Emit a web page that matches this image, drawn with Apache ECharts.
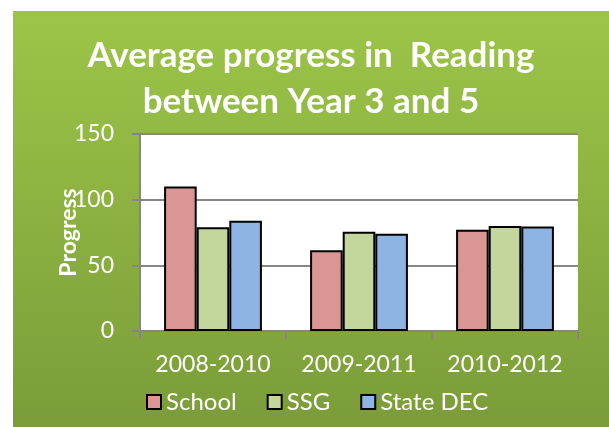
<!DOCTYPE html>
<html>
<head>
<meta charset="utf-8">
<script src="https://cdn.jsdelivr.net/npm/echarts@6/dist/echarts.min.js"></script>
<style>
  html, body { margin: 0; padding: 0; background: #fff; }
  #chart { position: absolute; left: 13px; top: 11px; width: 596px; height: 416px; }
</style>
</head>
<body>
<div id="chart"></div>
<script>
const periods = ['2008-2010', '2009-2011', '2010-2012']
const school   = [110, 61.5, 77]
const ssg      = [79, 75.5, 80]
const stateDec = [84, 74, 79.5]

const FONT = 'Lato'
const chart = echarts.init(document.getElementById('chart'))

const barStyle = color => ({ color, borderColor: '#000', borderWidth: 2 })

chart.setOption({
  backgroundColor: new echarts.graphic.LinearGradient(0, 0, 0, 1, [
    { offset: 0, color: '#9cc548' },
    { offset: 1, color: '#7b9c39' },
  ]),
  animation: false,
  textStyle: { fontFamily: FONT },
  title: {
    text: 'Average progress in  Reading\nbetween Year 3 and 5',
    left: 'center', top: 17,
    textStyle: { color: '#fff', fontSize: 35, fontWeight: 'bold', lineHeight: 46, fontFamily: FONT },
  },
  legend: {
    bottom: 8, left: 128,
    itemWidth: 14, itemHeight: 14, itemGap: 30,
    icon: 'rect',
    textStyle: { color: '#fff', fontSize: 24, fontFamily: FONT },
  },
  grid: { left: 127, top: 123, right: 31, bottom: 96, show: true, backgroundColor: '#fff', borderWidth: 0 },
  xAxis: {
    type: 'category', data: periods,
    axisLine: { lineStyle: { color: '#868686', width: 2 } },
    axisTick: { show: true, length: 8, lineStyle: { color: '#868686', width: 2 } },
    axisLabel: { color: '#fff', fontSize: 23, margin: 22, interval: 0, hideOverlap: false, fontFamily: FONT },
  },
  yAxis: {
    type: 'value', min: 0, max: 150, interval: 50,
    name: 'Progress', nameLocation: 'middle', nameGap: 60, nameRotate: 90, nameMoveOverlap: false,
    nameTextStyle: { color: '#fff', fontSize: 23, fontWeight: 'bold', fontFamily: FONT },
    axisLine: { show: true, lineStyle: { color: '#868686', width: 2 } },
    axisTick: { show: true, length: 8, lineStyle: { color: '#868686', width: 2 } },
    axisLabel: { color: '#fff', fontSize: 23, margin: 26, fontFamily: FONT },
    splitLine: { lineStyle: { color: '#868686', width: 2 } },
  },
  series: [
    { name: 'School', type: 'bar', data: school, itemStyle: barStyle('#d99694'), barGap: '0%', barCategoryGap: '33%' },
    { name: 'SSG', type: 'bar', data: ssg, itemStyle: barStyle('#c3d69b') },
    { name: 'State DEC', type: 'bar', data: stateDec, itemStyle: barStyle('#8eb4e3') },
  ],
})
</script>
</body>
</html>
